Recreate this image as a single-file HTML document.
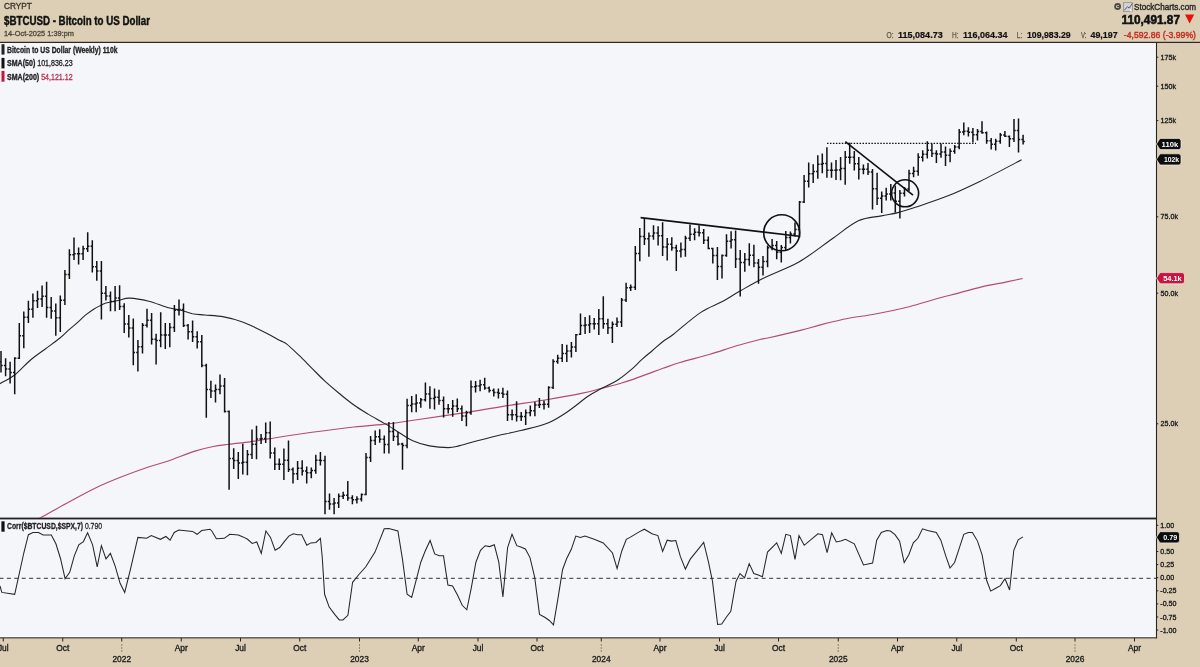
<!DOCTYPE html>
<html><head><meta charset="utf-8"><title>$BTCUSD - Bitcoin to US Dollar</title>
<style>html,body{margin:0;padding:0;background:#dccfb5;} svg{display:block;will-change:transform;}</style>
</head><body>
<svg width="1200" height="667" viewBox="0 0 1200 667"><rect x="0" y="0" width="1200" height="667" fill="#dccfb5"/><rect x="0" y="43" width="1156" height="595" fill="#f5f6fa"/><text x="4" y="9.4" font-family="'Liberation Sans', Arial, sans-serif" font-size="8.4" fill="#3a342c" stroke="#3a342c" stroke-width="0.32" textLength="27.8" lengthAdjust="spacingAndGlyphs">CRYPT</text><text x="4" y="24.6" font-family="'Liberation Sans', Arial, sans-serif" font-size="12" font-weight="bold" fill="#111" stroke="#111" stroke-width="0.42" textLength="146" lengthAdjust="spacingAndGlyphs">$BTCUSD - Bitcoin to US Dollar</text><text x="4" y="35.6" font-family="'Liberation Sans', Arial, sans-serif" font-size="7.6" fill="#4a443b" stroke="#4a443b" stroke-width="0.28" textLength="70" lengthAdjust="spacingAndGlyphs">14-Oct-2025 1:39:pm</text><circle cx="1117.6" cy="6.5" r="3.4" fill="#4d4843"/><text x="1117.6" y="8.3" font-family="'Liberation Sans', Arial, sans-serif" font-size="5.4" font-weight="bold" fill="#ece8e0" text-anchor="middle">c</text><rect x="1123.4" y="2.7" width="9.2" height="8.7" fill="#d2d1dc" stroke="#8a8785" stroke-width="0.7"/><path d="M1124.3 10.3 L1127.6 6.6 L1129.2 8.2 L1132.2 3.4" stroke="#55535a" stroke-width="0.9" fill="none"/><path d="M1129.6 8.4 L1132.3 11.2 L1130.3 11.4 Z" fill="#fff"/><text x="1134" y="9.6" font-family="'Liberation Sans', Arial, sans-serif" font-size="9.6" fill="#262626" stroke="#262626" stroke-width="0.4" textLength="62" lengthAdjust="spacingAndGlyphs">StockCharts.com</text><text x="1121.5" y="24.2" font-family="'Liberation Sans', Arial, sans-serif" font-size="12.6" font-weight="bold" fill="#111" stroke="#111" stroke-width="0.55" textLength="58.5" lengthAdjust="spacingAndGlyphs">110,491.87</text><path d="M1185 14.6 H1194.2 L1189.6 23.6 Z" fill="#e3120b"/><text x="886.5" y="38.2" font-family="'Liberation Sans', Arial, sans-serif" font-size="8.6" fill="#5e5850" stroke="#5e5850" stroke-width="0.25" textLength="7" lengthAdjust="spacingAndGlyphs">O:</text><text x="898" y="38.2" font-family="'Liberation Sans', Arial, sans-serif" font-size="9.2" font-weight="bold" fill="#111" stroke="#111" stroke-width="0.2" textLength="44.7" lengthAdjust="spacingAndGlyphs">115,084.73</text><text x="952" y="38.2" font-family="'Liberation Sans', Arial, sans-serif" font-size="8.6" fill="#5e5850" stroke="#5e5850" stroke-width="0.25" textLength="6.5" lengthAdjust="spacingAndGlyphs">H:</text><text x="963" y="38.2" font-family="'Liberation Sans', Arial, sans-serif" font-size="9.2" font-weight="bold" fill="#111" stroke="#111" stroke-width="0.2" textLength="44.4" lengthAdjust="spacingAndGlyphs">116,064.34</text><text x="1016.8" y="38.2" font-family="'Liberation Sans', Arial, sans-serif" font-size="8.6" fill="#5e5850" stroke="#5e5850" stroke-width="0.25" textLength="5.5" lengthAdjust="spacingAndGlyphs">L:</text><text x="1027" y="38.2" font-family="'Liberation Sans', Arial, sans-serif" font-size="9.2" font-weight="bold" fill="#111" stroke="#111" stroke-width="0.2" textLength="43.7" lengthAdjust="spacingAndGlyphs">109,983.29</text><text x="1081" y="38.2" font-family="'Liberation Sans', Arial, sans-serif" font-size="8.6" fill="#5e5850" stroke="#5e5850" stroke-width="0.25" textLength="5.5" lengthAdjust="spacingAndGlyphs">V:</text><text x="1090.5" y="38.2" font-family="'Liberation Sans', Arial, sans-serif" font-size="9.2" font-weight="bold" fill="#111" stroke="#111" stroke-width="0.2" textLength="27.1" lengthAdjust="spacingAndGlyphs">49,197</text><text x="1123.8" y="38.2" font-family="'Liberation Sans', Arial, sans-serif" font-size="9.2" fill="#c9291f" stroke="#c9291f" stroke-width="0.4" textLength="72.2" lengthAdjust="spacingAndGlyphs">-4,592.86 (-3.99%)</text><rect x="0" y="41.8" width="1200" height="1.2" fill="#2a2826"/><line x1="0" y1="578.3" x2="1156" y2="578.3" stroke="#333" stroke-width="1" stroke-dasharray="4 3.4" stroke-dashoffset="0.5"/><defs><clipPath id="pp"><rect x="0" y="43" width="1156" height="474.8"/></clipPath></defs><path clip-path="url(#pp)" d="M38 519.2C38.4 519 35.3 520.6 40.1 518C44.9 515.4 57.4 508.3 66.7 503.3C76 498.3 86.8 492.2 96 487.8C105.2 483.3 112.8 480.3 121.7 476.8C130.6 473.2 141.6 469.3 149.2 466.7C156.8 464.1 159.9 463.8 167.5 461.2C175.1 458.6 187.4 453.6 195 451.1C202.6 448.7 207.7 447.6 213.3 446.5C219 445.4 222.8 445.1 228.9 444.3C235 443.5 243.2 442.8 250 441.9C256.9 440.9 259.7 440.2 270 438.6C280.3 437 298 434.2 312 432.3C326 430.4 341.3 428.4 353.9 427C366.5 425.6 377 425.1 387.5 423.9C398 422.7 403.1 421.7 416.9 419.7C430.6 417.7 454.9 414.2 470 411.9C485.1 409.5 495 407.6 507.5 405.6C520 403.6 532.5 402.1 545 400C557.5 397.9 573.3 395 582.5 393.1C591.7 391.2 593.8 390.4 600 388.8C606.2 387.1 614.8 385 620 383.5C625.2 382 627 381.5 631.5 379.9C636 378.3 642 376 647.2 374.1C652.5 372.2 657.5 370.2 663 368.3C668.5 366.4 672.2 364.8 680 362.5C687.8 360.2 700.8 357 710 354.3C719.2 351.6 726.7 348.8 735 346.3C743.3 343.8 754.3 340.9 760 339.5C765.7 338.1 762.3 339.2 769 337.7C775.7 336.2 791.5 332.6 800.4 330.4C809.3 328.2 814.2 326.4 822.2 324.4C830.2 322.4 839.9 320 848.7 318.3C857.6 316.6 865.2 315.9 875.3 314C885.4 312.1 899.5 309.1 909.2 306.7C918.9 304.3 925.2 301.9 933.3 299.7C941.3 297.5 949.4 295.5 957.5 293.4C965.6 291.3 973.7 288.8 981.7 286.9C989.8 285 999 283.5 1005.8 282.1C1012.6 280.7 1019.9 279.1 1022.7 278.5" fill="none" stroke="#b44c6c" stroke-width="1.15"/><path d="M0 383.7C2.5 382.2 10 378.6 15 374.7C20 370.8 25 364.8 30 360.5C35 356.2 40 352.9 45 349.2C50 345.4 56 341.2 60 338C64 334.8 66.4 332.1 69.1 329.7C71.8 327.3 73.3 326.2 76.2 323.6C79.1 321.1 83.4 316.8 86.4 314.4C89.4 312 91.7 310.5 94.1 309C96.5 307.5 98.8 306.4 100.7 305.4C102.7 304.4 103.9 303.7 105.8 303.1C107.7 302.5 109.8 302.3 112 301.8C114.2 301.3 116 300.8 119 300.2C122 299.6 125 297.9 130 298.1C135 298.3 142.5 299.7 148.8 301.2C155 302.8 162.3 306 167.5 307.5C172.7 309 175.8 309 180 310C184.2 311 188.3 312.9 192.5 313.8C196.7 314.6 199.8 314.5 205 315C210.2 315.5 217.5 315.8 223.8 316.9C230 318 237.3 320.1 242.5 321.9C247.7 323.7 250.8 325.5 255 327.5C259.2 329.5 263.3 331.6 267.5 333.8C271.7 335.9 276.8 338.9 280 340.6C283.2 342.3 283.6 341.6 286.8 344.1C290 346.6 295.2 351.7 299.4 355.7C303.6 359.7 307.8 364.1 312 368.3C316.2 372.5 320.1 376.7 324.6 380.9C329.2 385.1 334.4 389.5 339.3 393.5C344.2 397.5 349 401.5 353.9 405C358.8 408.5 363.4 411.2 368.6 414.4C373.9 417.5 380.1 420.8 385.4 423.9C390.6 427 395.6 430.5 400.1 433.3C404.7 436.1 407.8 438.6 412.7 440.7C417.6 442.8 423.6 444.8 429.5 445.9C435.4 447 443.5 447.6 448.4 447.6C453.3 447.6 455.3 446.7 458.9 445.9C462.5 445.1 464.1 444.4 470 442.8C475.9 441.2 485.5 438.6 494 436.5C502.5 434.4 511.9 432.8 520.9 430.5C529.9 428.2 540.2 426.1 547.9 423C555.5 419.9 560 416.7 566.8 412.2C573.5 407.7 582.9 399.8 588.4 396C593.9 392.2 596.3 391.3 600 389.3C603.7 387.3 607.4 385.8 610.5 384.1C613.6 382.4 615.4 381.8 618.9 379.3C622.4 376.9 627.6 372.7 631.5 369.4C635.4 366.1 638.5 362.5 642 359.4C645.5 356.2 649 353.5 652.5 350.5C656 347.5 659.5 344.2 663 341.5C666.5 338.8 667.2 339.1 673.5 334.2C679.8 329.3 692.6 317.8 700.8 312.4C708.9 307 715.8 305.2 722.4 301.6C729 298 733.1 294.9 740.4 290.8C747.7 286.7 756.2 281.7 766 276.9C775.8 272.1 787.9 268.3 798.9 262C809.9 255.7 822 245.9 831.9 239C841.8 232.1 850 224.7 858.3 220.8C866.5 217 874.8 217.3 881.4 215.9C888 214.5 892.4 214 897.9 212.6C903.4 211.2 906.1 210.3 914.4 207.6C922.6 204.8 936.4 200.5 947.4 196.1C958.4 191.7 967.9 187.2 980.3 181.2C992.7 175.1 1014.7 163.4 1021.6 159.8" fill="none" stroke="#262626" stroke-width="1.1"/><path d="M1 351V372.6M-0.7 361.8H1M1 365.4H2.7M5.6 358.2V376.2M3.9 365.4H5.6M5.6 369H7.3M10.1 361.8V383.4M8.4 369H10.1M10.1 372.6H11.8M14.7 357.3V394.2M13 372.6H14.7M14.7 358.2H16.4M19.3 323.1V359.1M17.6 358.2H19.3M19.3 335.7H21M23.8 311.5V348.3M22.1 335.7H23.8M23.8 317.3H25.5M28.4 300.7V323.1M26.7 317.3H28.4M28.4 309.2H30.1M32.9 293.5V317.8M31.2 309.2H32.9M32.9 300.7H34.6M37.5 290.8V307.9M35.8 300.7H37.5M37.5 298.9H39.2M42.1 285.4V307M40.4 298.9H42.1M42.1 296.2H43.8M46.6 281.8V317.8M44.9 296.2H46.6M46.6 307.4H48.3M51.2 297V318.7M49.5 307.4H51.2M51.2 311H52.9M55.8 303.4V335.7M54.1 311H55.8M55.8 317.7H57.5M60.3 295.5V332M58.6 317.7H60.3M60.3 300.2H62M64.9 270V305M63.2 300.2H64.9M64.9 274.5H66.6M69.4 249.3V279M67.7 274.5H69.4M69.4 254.7H71.1M74 237.6V260M72.3 254.7H74M74 253.8H75.7M78.6 247.5V264.5M76.9 253.8H78.6M78.6 253.8H80.3M83.1 245.7V260M81.4 253.8H83.1M83.1 248.8H84.8M87.7 232.2V252M86 248.8H87.7M87.7 246.2H89.4M92.3 240.3V272.6M90.6 246.2H92.3M92.3 266.8H94M96.8 261V280.7M95.1 266.8H96.8M96.8 270.9H98.5M101.4 261V319.4M99.7 270.9H101.4M101.4 293.2H103.1M105.9 286V300.5M104.2 293.2H105.9M105.9 296H107.6M110.5 291.5V311.3M108.8 296H110.5M110.5 301.4H112.2M115.1 286V311.3M113.4 301.4H115.1M115.1 298H116.8M119.6 285.2V310M117.9 298H119.6M119.6 306.6H121.3M124.2 303.3V333M122.5 306.6H124.2M124.2 324H125.9M128.8 315V337.4M127.1 324H128.8M128.8 327.9H130.5M133.3 318.5V365.3M131.6 327.9H133.3M133.3 352.6H135M137.9 340V371.6M136.2 352.6H137.9M137.9 346.8H139.6M142.5 323V353.6M140.8 346.8H142.5M142.5 325.2H144.2M147 308.7V327.5M145.3 325.2H147M147 320.2H148.7M151.6 313V344.6M149.9 320.2H151.6M151.6 339.2H153.3M156.1 333.8V364.4M154.4 339.2H156.1M156.1 340.6H157.8M160.7 312.2V347.3M159 340.6H160.7M160.7 335.1H162.4M165.3 323V349M163.6 335.1H165.3M165.3 335.1H167M169.8 323V347.3M168.1 335.1H169.8M169.8 327.5H171.5M174.4 305V332M172.7 327.5H174.4M174.4 310.2H176.1M179 299.5V315.5M177.3 310.2H179M179 309.5H180.7M183.5 303.5V326.9M181.8 309.5H183.5M183.5 325.4H185.2M188.1 324V339.4M186.4 325.4H188.1M188.1 331.7H189.8M192.6 320.6V342.1M190.9 331.7H192.6M192.6 336.7H194.3M197.2 331.3V348.4M195.5 336.7H197.2M197.2 341.7H198.9M201.8 335V367.3M200.1 341.7H201.8M201.8 365.5H203.5M206.3 363.7V417.8M204.6 365.5H206.3M206.3 389.4H208M210.9 380.8V397.9M209.2 389.4H210.9M210.9 391.1H212.6M215.5 384.4V402.4M213.8 391.1H215.5M215.5 389.4H217.2M220 374.5V394.3M218.3 389.4H220M220 386.1H221.7M224.6 378V412.4M222.9 386.1H224.6M224.6 411.5H226.3M229.1 410.6V489.7M227.4 411.5H229.1M229.1 458.6H230.8M233.7 448.3V469M232 458.6H233.7M233.7 460.4H235.4M238.3 451.9V478.9M236.6 460.4H238.3M238.3 463.1H240M242.8 443.8V474.4M241.1 463.1H242.8M242.8 462.2H244.5M247.4 450V475.3M245.7 462.2H247.4M247.4 454.6H249.1M252 429.4V459.1M250.3 454.6H252M252 444.2H253.7M256.5 425.8V459.2M254.8 444.2H256.5M256.5 439H258.2M261.1 434V444M259.4 439H261.1M261.1 438.6H262.8M265.7 422.5V443.1M264 438.6H265.7M265.7 432.8H267.4M270.2 421.6V458.4M268.5 432.8H270.2M270.2 453H271.9M274.8 447.6V470.1M273.1 453H274.8M274.8 464.2H276.5M279.3 458.4V470.1M277.6 464.2H279.3M279.3 464.2H281M283.9 448.5V480M282.2 464.2H283.9M283.9 460.2H285.6M288.5 440.4V471.9M286.8 460.2H288.5M288.5 469.6H290.2M293 467.4V483.6M291.3 469.6H293M293 473.7H294.7M297.6 461.1V480M295.9 473.7H297.6M297.6 468.3H299.3M302.2 460.2V475.5M300.5 468.3H302.2M302.2 471H303.9M306.7 466.5V483.6M305 471H306.7M306.7 472.8H308.4M311.3 467.4V478.2M309.6 472.8H311.3M311.3 470.5H313M315.8 454.8V473.7M314.1 470.5H315.8M315.8 460.2H317.5M320.4 452.1V465.6M318.7 460.2H320.4M320.4 460.6H322.1M325 455.7V514.2M323.3 460.6H325M325 501.6H326.7M329.5 493.5V509.7M327.8 501.6H329.5M329.5 503.9H331.2M334.1 498V514.2M332.4 503.9H334.1M334.1 502.9H335.8M338.7 493.5V507.9M337 502.9H338.7M338.7 496.2H340.4M343.2 491.7V498.9M341.5 496.2H343.2M343.2 495.3H344.9M347.8 480.9V500.7M346.1 495.3H347.8M347.8 498H349.5M352.4 495.3V504.3M350.7 498H352.4M352.4 499.8H354.1M356.9 496.2V503.4M355.2 499.8H356.9M356.9 498.9H358.6M361.5 493.5V501.6M359.8 498.9H361.5M361.5 494.4H363.2M366 453V495.3M364.3 494.4H366M366 457.5H367.7M370.6 436V462M368.9 457.5H370.6M370.6 440.5H372.3M375.2 430.6V445M373.5 440.5H375.2M375.2 436.7H376.9M379.7 429.3V442.8M378 436.7H379.7M379.7 439.2H381.4M384.3 435.6V453.6M382.6 439.2H384.3M384.3 444.6H386M388.9 422.1V453.6M387.2 444.6H388.9M388.9 431.6H390.6M393.4 422.1V441M391.7 431.6H393.4M393.4 436.5H395.1M398 432V445.5M396.3 436.5H398M398 444.1H399.7M402.5 442.8V469.8M400.8 444.1H402.5M402.5 445.5H404.2M407.1 398.8V448.2M405.4 445.5H407.1M407.1 405.5H408.8M411.7 396V412.2M410 405.5H411.7M411.7 404.1H413.4M416.2 394.3V412.2M414.5 404.1H416.2M416.2 402.9H417.9M420.8 397.9V407.8M419.1 402.9H420.8M420.8 399.7H422.5M425.4 382.6V401.5M423.7 399.7H425.4M425.4 393.9H427.1M429.9 386.2V408.7M428.2 393.9H429.9M429.9 398.6H431.6M434.5 388.5V409.4M432.8 398.6H434.5M434.5 397.2H436.2M439 389.8V404.7M437.3 397.2H439M439 400.6H440.7M443.6 396.6V417.5M441.9 400.6H443.6M443.6 408.8H445.3M448.2 404V413.5M446.5 408.8H448.2M448.2 408.8H449.9M452.7 400V416.8M451 408.8H452.7M452.7 406.1H454.4M457.3 398.6V412.1M455.6 406.1H457.3M457.3 408.8H459M461.9 405.4V420.9M460.2 408.8H461.9M461.9 415.9H463.6M466.4 410.8V426.3M464.7 415.9H466.4M466.4 412.8H468.1M471 380.4V414.8M469.3 412.8H471M471 386.8H472.7M475.6 381V392.5M473.9 386.8H475.6M475.6 386.1H477.3M480.1 379.7V391.2M478.4 386.1H480.1M480.1 384.8H481.8M484.7 377.7V389.8M483 384.8H484.7M484.7 388.1H486.4M489.2 386.5V392.5M487.5 388.1H489.2M489.2 390.5H490.9M493.8 388.5V396.6M492.1 390.5H493.8M493.8 392.6H495.5M498.4 388.5V398.6M496.7 392.6H498.4M498.4 393.2H500.1M502.9 387.8V397.9M501.2 393.2H502.9M502.9 394.2H504.6M507.5 390.5V420.9M505.8 394.2H507.5M507.5 414.8H509.2M512.1 409.4V420.2M510.4 414.8H512.1M512.1 414.8H513.8M516.6 401.3V421.6M514.9 414.8H516.6M516.6 416.5H518.3M521.2 412.1V420.9M519.5 416.5H521.2M521.2 416.5H522.9M525.7 409.4V424.9M524 416.5H525.7M525.7 412.8H527.4M530.3 405.4V416.2M528.6 412.8H530.3M530.3 410.8H532M534.9 402V416.2M533.2 410.8H534.9M534.9 405.1H536.6M539.4 398V408.1M537.7 405.1H539.4M539.4 404.4H541.1M544 400.6V409.4M542.3 404.4H544M544 404.2H545.7M548.6 386.2V407.8M546.9 404.2H548.6M548.6 387.5H550.3M553.1 359.2V388.9M551.4 387.5H553.1M553.1 361.4H554.8M557.7 354.7V363.7M556 361.4H557.7M557.7 358.3H559.4M562.2 343.9V361.9M560.5 358.3H562.2M562.2 353.4H563.9M566.8 344.8V361.9M565.1 353.4H566.8M566.8 351.1H568.5M571.4 342.1V357.4M569.7 351.1H571.4M571.4 347.1H573.1M575.9 334V352M574.2 347.1H575.9M575.9 334.8H577.6M580.5 313.4V335M578.8 334.2H580.5M580.5 325.5H582.2M585.1 317V334M583.4 325.5H585.1M585.1 325.1H586.8M589.6 315.2V333.1M587.9 325.1H589.6M589.6 323.7H591.3M594.2 317.9V329.5M592.5 323.7H594.2M594.2 323.7H595.9M598.8 308.9V334.9M597.1 323.7H598.8M598.8 318.8H600.5M603.3 296.3V328.7M601.6 318.8H603.3M603.3 323.8H605M607.9 318.8V334M606.2 323.8H607.9M607.9 327.8H609.6M612.4 321.5V343M610.7 327.8H612.4M612.4 324.2H614.1M617 317.4V326.9M615.3 324.2H617M617 322.1H618.7M621.6 298V326.9M619.9 322.1H621.6M621.6 300H623.3M626.1 282.8V302M624.4 300H626.1M626.1 287.8H627.8M630.7 284.6V290.9M629 287.8H630.7M630.7 287.3H632.4M635.3 246V290M633.6 287.3H635.3M635.3 253.6H637M639.8 228V261.2M638.1 253.6H639.8M639.8 236.5H641.5M644.4 218.1V245M642.7 236.5H644.4M644.4 238.8H646.1M648.9 232.5V256.7M647.2 238.8H648.9M648.9 236.1H650.6M653.5 225.3V239.7M651.8 236.1H653.5M653.5 232.9H655.2M658.1 226.2V245.5M656.4 232.9H658.1M658.1 235.8H659.8M662.6 222.2V256M660.9 235.8H662.6M662.6 247H664.3M667.2 238V260.5M665.5 247H667.2M667.2 244.3H668.9M671.8 237.2V250.7M670.1 244.3H671.8M671.8 247.7H673.5M676.3 244.7V271M674.6 247.7H676.3M676.3 251.1H678M680.9 242.5V257.5M679.2 251.1H680.9M680.9 249.6H682.6M685.4 235.7V256.7M683.7 249.6H685.4M685.4 238.3H687.1M690 224.5V241M688.3 238.3H690M690 234.2H691.7M694.6 228.2V240.2M692.9 234.2H694.6M694.6 232.3H696.3M699.1 225.2V236.5M697.4 232.3H699.1M699.1 232.8H700.8M703.7 229V244M702 232.8H703.7M703.7 240.2H705.4M708.3 236.5V249.2M706.6 240.2H708.3M708.3 248.4H710M712.8 247.7V263.5M711.1 248.5H712.8M712.8 255.6H714.5M717.4 247V280M715.7 255.6H717.4M717.4 266.4H719.1M722 254.5V278.4M720.3 266.4H722M722 255.6H723.7M726.5 234.2V256.7M724.8 255.6H726.5M726.5 241.3H728.2M731.1 231.2V248.5M729.4 241.3H731.1M731.1 239.8H732.8M735.6 230.5V268M733.9 239.8H735.6M735.6 259H737.3M740.2 250V296.4M738.5 259H740.2M740.2 262.4H741.9M744.8 253V271.7M743.1 262.4H744.8M744.8 259.4H746.5M749.3 243.2V265.7M747.6 259.4H749.3M749.3 255.2H751M753.9 244.7V267.2M752.2 255.2H753.9M753.9 263.1H755.6M758.5 259V283.7M756.8 263.1H758.5M758.5 267.2H760.2M763 256V275.4M761.3 267.2H763M763 261.6H764.7M767.6 245.5V267.2M765.9 261.6H767.6M767.6 247.8H769.3M772.1 239V250.2M770.4 247.8H772.1M772.1 245.6H773.8M776.7 241V259.3M775 245.6H776.7M776.7 252.2H778.4M781.3 245.1V262.4M779.6 252.2H781.3M781.3 247.6H783M785.8 231V250M784.1 247.6H785.8M785.8 237.5H787.5M790.4 231.5V243.5M788.7 237.5H790.4M790.4 234H792.1M795 222.5V236.5M793.3 234H795M795 229.5H796.7M799.5 201V237.5M797.8 229.5H799.5M799.5 202H801.2M804.1 175V203M802.4 202H804.1M804.1 181.3H805.8M808.7 162.5V187.6M807 181.3H808.7M808.7 173.7H810.4M813.2 164.3V183M811.5 173.7H813.2M813.2 171.5H814.9M817.8 155.3V178.7M816.1 171.5H817.8M817.8 164.3H819.5M822.3 153.5V173.3M820.6 164.3H822.3M822.3 163.4H824M826.9 147.2V177.8M825.2 163.4H826.9M826.9 170.2H828.6M831.5 162.5V177.8M829.8 170.2H831.5M831.5 170.2H833.2M836 160V180M834.3 170.2H836M836 170H837.7M840.6 157V180.2M838.9 170H840.6M840.6 168.6H842.3M845.2 151V184.7M843.5 168.6H845.2M845.2 157.3H846.9M849.7 142.7V163.7M848 157.3H849.7M849.7 157.3H851.4M854.3 151V170.4M852.6 157.3H854.3M854.3 163.7H856M858.8 157V179.4M857.1 163.7H858.8M858.8 169.3H860.5M863.4 164.5V174.2M861.7 169.3H863.4M863.4 169.3H865.1M868 163V175M866.3 169.3H868M868 172H869.7M872.5 169V209.4M870.8 172H872.5M872.5 188.8H874.2M877.1 172.7V205M875.4 188.8H877.1M877.1 198.2H878.8M881.7 191.4V213.1M880 198.2H881.7M881.7 195.9H883.4M886.2 187.7V200.4M884.5 195.9H886.2M886.2 194.1H887.9M890.8 184V200.4M889.1 194.1H890.8M890.8 192.9H892.5M895.3 185.4V212.4M893.6 192.9H895.3M895.3 201.2H897M899.9 190V218.4M898.2 201.2H899.9M899.9 193.2H901.6M904.5 187V196.5M902.8 193.2H904.5M904.5 189H906.2M909 169.7V191M907.3 189H909M909 173.4H910.7M913.6 166.7V177.2M911.9 173.4H913.6M913.6 171.2H915.3M918.2 153.2V175.7M916.5 171.2H918.2M918.2 157.3H919.9M922.7 150.2V161.4M921 157.3H922.7M922.7 154.3H924.4M927.3 141.2V158.4M925.6 154.3H927.3M927.3 150.2H929M931.9 143.4V157M930.2 150.2H931.9M931.9 153.6H933.6M936.4 150.2V162.9M934.7 153.6H936.4M936.4 153.9H938.1M941 143.4V157.7M939.3 153.9H941M941 152.1H942.7M945.5 146.4V165.9M943.8 152.1H945.5M945.5 155.3H947.2M950.1 148.5V162.2M948.4 155.3H950.1M950.1 151.2H951.8M954.7 145V153.8M953 151.2H954.7M954.7 147.1H956.4M959.2 129V149.2M957.5 147.1H959.2M959.2 132.1H960.9M963.8 122.6V135.2M962.1 132.1H963.8M963.8 131.2H965.5M968.4 127.3V136.6M966.7 131.2H968.4M968.4 132.2H970.1M972.9 127.9V142.5M971.2 132.2H972.9M972.9 134.8H974.6M977.5 128.9V140.6M975.8 134.8H977.5M977.5 131.4H979.2M982 121.2V133.8M980.3 131.4H982M982 132.7H983.7M986.6 131.6V143.7M984.9 132.7H986.6M986.6 140.8H988.3M991.2 137.9V149.6M989.5 140.8H991.2M991.2 144.2H992.9M995.7 138.8V150.5M994 144.2H995.7M995.7 141.2H997.4M1000.3 132.9V143.7M998.6 141.2H1000.3M1000.3 134.9H1002M1004.9 131.1V137M1003.2 134.9H1004.9M1004.9 136.2H1006.6M1009.4 135.6V146.9M1007.7 136.4H1009.4M1009.4 138.8H1011.1M1014 119V141.9M1012.3 138.8H1014M1014 130.4H1015.7M1018.5 118.5V152.5M1016.8 130.4H1018.5M1018.5 139.6H1020.2M1023.1 134.7V144.6M1021.4 139.6H1023.1M1023.1 141.6H1024.8" stroke="#111" stroke-width="1.5" fill="none"/><line x1="640.6" y1="217.6" x2="799" y2="236.2" stroke="#111" stroke-width="1.6"/><circle cx="781.7" cy="232.8" r="18" fill="none" stroke="#111" stroke-width="1.6"/><line x1="845.3" y1="141.6" x2="913" y2="195.2" stroke="#111" stroke-width="1.6"/><circle cx="905.1" cy="193.3" r="13.5" fill="none" stroke="#111" stroke-width="1.6"/><line x1="827" y1="143.3" x2="976" y2="143.3" stroke="#111" stroke-width="1.3" stroke-dasharray="1.5 1.46"/><polyline points="0,586 1.8,592.4 14.7,594.3 23.8,553 28.4,534.7 33,532.5 38.5,532.5 43.1,535 51.3,535 55.9,543.8 60.5,558.5 65.1,578.7 69.7,572.3 74.3,555.8 78.8,544.8 83.4,541.6 87.6,532.8 92.6,544.8 97.2,566.8 101.4,545.7 106,558.9 110.4,553.4 115.1,565.8 120.1,583.3 124.7,592.4 130.2,570.4 137.9,537.4 146.7,538.3 151.3,535.6 160.4,539.3 165.9,536.5 170.1,540.2 174.2,532.5 178.8,530.1 192.5,531.4 197.1,534.3 201.7,530.6 210,529.2 211.8,531 216.4,538.7 224.3,538.3 229.8,534.3 238.4,535 243,536.9 247.6,539.3 252.2,543.5 256.8,542 261.3,553.4 265.9,531 270.5,537.4 275.1,550.3 279.7,547.5 284.3,541.6 288.8,536.1 293.4,533.8 297.6,534.7 301.7,534.7 306.8,545.3 310.8,542.9 316,542.4 320.4,538.3 322.2,556.7 324.6,594.3 329.2,607.1 334.7,614.4 339.3,619.9 342.9,619.9 347.9,615.3 352.6,582.3 358.5,575 365.8,566.8 375,552.1 384.2,528.8 388.8,528.6 397.9,531 402.5,559.4 407.1,594.3 411.7,597.4 416.3,579.6 420.8,562.2 425.1,551.2 430.1,540.5 434.7,553.9 439.3,555.8 443.5,555.8 447.9,585.1 452.6,586 457.6,595.2 462.2,605.3 466.8,609.8 471.3,587.8 475.9,562.2 480.5,550.3 485.1,545.7 489.7,546.6 494.3,544.8 498.8,562.2 502.9,597 507.6,547.5 512,534.3 516.8,545.7 520.8,547.1 525.4,549 530,557.6 534.6,576.8 539.5,614.4 544.7,617.2 549.3,620.5 553.5,624.9 557.9,598.8 562.6,569.5 566.7,558.5 571.3,549.3 575.8,536.1 580.4,537.4 585,536.1 594.2,539.3 603.3,542.9 612.5,553 617.1,568.6 621.7,551.2 626.3,539.3 630,537.4 639.2,531.9 644.3,529.2 652,533.8 657.9,535.6 662.6,551.5 667.2,540.2 671.3,541.1 675.8,540.5 680.4,556.7 685.4,569.1 690.1,559.4 703.7,542.4 708.5,562.2 712.5,581.4 717.6,624.5 721.7,624.1 726.3,617.2 730.8,611.3 736,581.4 740,573.5 744.6,577.8 749.2,563.6 753.8,573.5 758.3,575 762.4,576.8 767.5,552.1 776.7,542.9 781.3,553.4 785.8,534.3 790.4,535.6 795,559.4 799,535.6 804.2,545.3 817.9,533.8 822.5,534.7 827.1,552.6 831.7,532.8 836.3,542 840.8,541.1 845.4,539.3 854.3,543.8 863.5,564.9 872.6,563.1 876.7,540.2 881.3,532.5 886.8,530.6 890.4,531 895,534.7 899.6,541.1 904.2,562.5 908.8,554.8 913.3,542.9 917.9,538.3 922.5,528.8 927.6,530.6 936.3,532.5 940.8,540.2 946,556.7 950,568 954.6,562.5 959.2,548.4 963.8,534.3 968.3,532.5 972.4,532.5 977.5,541.1 982.1,554.8 986.7,580.5 990.7,591.1 995.8,588.2 1000.4,585.6 1005,578.7 1009.6,590 1013.8,550.3 1018.2,539.8 1023,536.9" fill="none" stroke="#262626" stroke-width="1.05"/><rect x="0" y="517.6" width="1156" height="1.8" fill="#222"/><rect x="0" y="636.4" width="1156" height="0.8" fill="#fff"/><rect x="0" y="637.1" width="1156" height="1.4" fill="#555"/><rect x="1155.95" y="42" width="1.1" height="596.5" fill="#262626"/><rect x="1.5" y="44.2" width="3" height="10.4" fill="#222"/><rect x="1.5" y="57.9" width="3" height="10.5" fill="#111"/><rect x="1.5" y="70.9" width="3" height="10.8" fill="#c8153e"/><text x="7" y="52.6" font-family="'Liberation Sans', Arial, sans-serif" font-size="8.2" font-weight="bold" fill="#222" stroke="#222" stroke-width="0.28" textLength="110.5" lengthAdjust="spacingAndGlyphs">Bitcoin to US Dollar (Weekly) 110k</text><text x="7" y="66.1" font-family="'Liberation Sans', Arial, sans-serif" font-size="8.2" fill="#222" stroke="#222" stroke-width="0.28" textLength="65.6" lengthAdjust="spacingAndGlyphs"><tspan font-weight="bold">SMA(50)</tspan> 101,836.23</text><text x="7" y="79.5" font-family="'Liberation Sans', Arial, sans-serif" font-size="8.2" fill="#222" stroke="#222" stroke-width="0.28" textLength="65.6" lengthAdjust="spacingAndGlyphs"><tspan font-weight="bold">SMA(200)</tspan> <tspan fill="#b8304f" stroke="#b8304f">54,121.12</tspan></text><rect x="1.4" y="521.3" width="3.2" height="10.4" fill="#111"/><text x="7" y="529.3" font-family="'Liberation Sans', Arial, sans-serif" font-size="8.4" fill="#222" stroke="#222" stroke-width="0.28" textLength="95" lengthAdjust="spacingAndGlyphs"><tspan font-weight="bold">Corr($BTCUSD,$SPX,7)</tspan> 0.790</text><line x1="1156" y1="57.2" x2="1158.3" y2="57.2" stroke="#222" stroke-width="1"/><text x="1160.6" y="59.7" font-family="'Liberation Sans', Arial, sans-serif" font-size="7.1" fill="#1a1a1a" stroke="#1a1a1a" stroke-width="0.32">175k</text><line x1="1156" y1="86.2" x2="1158.3" y2="86.2" stroke="#222" stroke-width="1"/><text x="1160.6" y="88.7" font-family="'Liberation Sans', Arial, sans-serif" font-size="7.1" fill="#1a1a1a" stroke="#1a1a1a" stroke-width="0.32">150k</text><line x1="1156" y1="120.6" x2="1158.3" y2="120.6" stroke="#222" stroke-width="1"/><text x="1160.6" y="123.1" font-family="'Liberation Sans', Arial, sans-serif" font-size="7.1" fill="#1a1a1a" stroke="#1a1a1a" stroke-width="0.32">125k</text><line x1="1156" y1="216.8" x2="1158.3" y2="216.8" stroke="#222" stroke-width="1"/><text x="1160.6" y="219.3" font-family="'Liberation Sans', Arial, sans-serif" font-size="7.1" fill="#1a1a1a" stroke="#1a1a1a" stroke-width="0.32">75.0k</text><line x1="1156" y1="293.2" x2="1158.3" y2="293.2" stroke="#222" stroke-width="1"/><text x="1160.6" y="295.7" font-family="'Liberation Sans', Arial, sans-serif" font-size="7.1" fill="#1a1a1a" stroke="#1a1a1a" stroke-width="0.32">50.0k</text><line x1="1156" y1="423.8" x2="1158.3" y2="423.8" stroke="#222" stroke-width="1"/><text x="1160.6" y="426.3" font-family="'Liberation Sans', Arial, sans-serif" font-size="7.1" fill="#1a1a1a" stroke="#1a1a1a" stroke-width="0.32">25.0k</text><line x1="1156" y1="525.3" x2="1158.3" y2="525.3" stroke="#222" stroke-width="1"/><text x="1160.3" y="527.8" font-family="'Liberation Sans', Arial, sans-serif" font-size="7.1" fill="#1a1a1a" stroke="#1a1a1a" stroke-width="0.32">1.00</text><line x1="1156" y1="551.5" x2="1158.3" y2="551.5" stroke="#222" stroke-width="1"/><text x="1160.3" y="554" font-family="'Liberation Sans', Arial, sans-serif" font-size="7.1" fill="#1a1a1a" stroke="#1a1a1a" stroke-width="0.32">0.50</text><line x1="1156" y1="564.6" x2="1158.3" y2="564.6" stroke="#222" stroke-width="1"/><text x="1160.3" y="567.1" font-family="'Liberation Sans', Arial, sans-serif" font-size="7.1" fill="#1a1a1a" stroke="#1a1a1a" stroke-width="0.32">0.25</text><line x1="1156" y1="577.7" x2="1158.3" y2="577.7" stroke="#222" stroke-width="1"/><text x="1160.3" y="580.2" font-family="'Liberation Sans', Arial, sans-serif" font-size="7.1" fill="#1a1a1a" stroke="#1a1a1a" stroke-width="0.32">0.00</text><line x1="1156" y1="590.8" x2="1158.3" y2="590.8" stroke="#222" stroke-width="1"/><text x="1160.3" y="593.3" font-family="'Liberation Sans', Arial, sans-serif" font-size="7.1" fill="#1a1a1a" stroke="#1a1a1a" stroke-width="0.32">-0.25</text><line x1="1156" y1="603.9" x2="1158.3" y2="603.9" stroke="#222" stroke-width="1"/><text x="1160.3" y="606.4" font-family="'Liberation Sans', Arial, sans-serif" font-size="7.1" fill="#1a1a1a" stroke="#1a1a1a" stroke-width="0.32">-0.50</text><line x1="1156" y1="617" x2="1158.3" y2="617" stroke="#222" stroke-width="1"/><text x="1160.3" y="619.5" font-family="'Liberation Sans', Arial, sans-serif" font-size="7.1" fill="#1a1a1a" stroke="#1a1a1a" stroke-width="0.32">-0.75</text><line x1="1156" y1="630.1" x2="1158.3" y2="630.1" stroke="#222" stroke-width="1"/><text x="1160.3" y="632.6" font-family="'Liberation Sans', Arial, sans-serif" font-size="7.1" fill="#1a1a1a" stroke="#1a1a1a" stroke-width="0.32">-1.00</text><path d="M1156.4 144 L1160 138.4 H1178.5 Q1181 138.4 1181 140.9 V147.1 Q1181 149.6 1178.5 149.6 H1160 Z" fill="#0d0d0d" stroke="#f4efe4" stroke-width="0.7"/><text x="1161.6" y="146.8" font-family="'Liberation Sans', Arial, sans-serif" font-size="7.8" font-weight="bold" fill="#fff" textLength="16.6" lengthAdjust="spacingAndGlyphs">110k</text><path d="M1156.4 159.4 L1160 153.8 H1178.5 Q1181 153.8 1181 156.3 V162.5 Q1181 165 1178.5 165 H1160 Z" fill="#0d0d0d" stroke="#f4efe4" stroke-width="0.7"/><text x="1163.9" y="162.2" font-family="'Liberation Sans', Arial, sans-serif" font-size="7.8" font-weight="bold" fill="#fff" textLength="15.3" lengthAdjust="spacingAndGlyphs">102k</text><path d="M1156.4 278.2 L1160 272.6 H1182 Q1184.5 272.6 1184.5 275.1 V281.3 Q1184.5 283.8 1182 283.8 H1160 Z" fill="#c8153e" stroke="#f4efe4" stroke-width="0.7"/><text x="1163.2" y="281" font-family="'Liberation Sans', Arial, sans-serif" font-size="7.8" font-weight="bold" fill="#fff" textLength="18.5" lengthAdjust="spacingAndGlyphs">54.1k</text><path d="M1156.4 537.3 L1160 531.7 H1177 Q1179.5 531.7 1179.5 534.2 V540.4 Q1179.5 542.9 1177 542.9 H1160 Z" fill="#0d0d0d" stroke="#f4efe4" stroke-width="0.7"/><text x="1163.2" y="540.1" font-family="'Liberation Sans', Arial, sans-serif" font-size="7.8" font-weight="bold" fill="#fff" textLength="14" lengthAdjust="spacingAndGlyphs">0.79</text><line x1="3.25" y1="638" x2="3.25" y2="641.5" stroke="#222" stroke-width="1"/><text x="3.25" y="651.3" font-family="'Liberation Sans', Arial, sans-serif" font-size="8.4" fill="#1a1a1a" stroke="#1a1a1a" stroke-width="0.32" text-anchor="middle">Jul</text><line x1="62.75" y1="638" x2="62.75" y2="641.5" stroke="#222" stroke-width="1"/><text x="62.75" y="651.3" font-family="'Liberation Sans', Arial, sans-serif" font-size="8.4" fill="#1a1a1a" stroke="#1a1a1a" stroke-width="0.32" text-anchor="middle">Oct</text><line x1="181.25" y1="638" x2="181.25" y2="641.5" stroke="#222" stroke-width="1"/><text x="181.25" y="651.3" font-family="'Liberation Sans', Arial, sans-serif" font-size="8.4" fill="#1a1a1a" stroke="#1a1a1a" stroke-width="0.32" text-anchor="middle">Apr</text><line x1="240.5" y1="638" x2="240.5" y2="641.5" stroke="#222" stroke-width="1"/><text x="240.5" y="651.3" font-family="'Liberation Sans', Arial, sans-serif" font-size="8.4" fill="#1a1a1a" stroke="#1a1a1a" stroke-width="0.32" text-anchor="middle">Jul</text><line x1="299.75" y1="638" x2="299.75" y2="641.5" stroke="#222" stroke-width="1"/><text x="299.75" y="651.3" font-family="'Liberation Sans', Arial, sans-serif" font-size="8.4" fill="#1a1a1a" stroke="#1a1a1a" stroke-width="0.32" text-anchor="middle">Oct</text><line x1="418.25" y1="638" x2="418.25" y2="641.5" stroke="#222" stroke-width="1"/><text x="418.25" y="651.3" font-family="'Liberation Sans', Arial, sans-serif" font-size="8.4" fill="#1a1a1a" stroke="#1a1a1a" stroke-width="0.32" text-anchor="middle">Apr</text><line x1="478" y1="638" x2="478" y2="641.5" stroke="#222" stroke-width="1"/><text x="478" y="651.3" font-family="'Liberation Sans', Arial, sans-serif" font-size="8.4" fill="#1a1a1a" stroke="#1a1a1a" stroke-width="0.32" text-anchor="middle">Jul</text><line x1="537" y1="638" x2="537" y2="641.5" stroke="#222" stroke-width="1"/><text x="537" y="651.3" font-family="'Liberation Sans', Arial, sans-serif" font-size="8.4" fill="#1a1a1a" stroke="#1a1a1a" stroke-width="0.32" text-anchor="middle">Oct</text><line x1="660" y1="638" x2="660" y2="641.5" stroke="#222" stroke-width="1"/><text x="660" y="651.3" font-family="'Liberation Sans', Arial, sans-serif" font-size="8.4" fill="#1a1a1a" stroke="#1a1a1a" stroke-width="0.32" text-anchor="middle">Apr</text><line x1="719.5" y1="638" x2="719.5" y2="641.5" stroke="#222" stroke-width="1"/><text x="719.5" y="651.3" font-family="'Liberation Sans', Arial, sans-serif" font-size="8.4" fill="#1a1a1a" stroke="#1a1a1a" stroke-width="0.32" text-anchor="middle">Jul</text><line x1="778.5" y1="638" x2="778.5" y2="641.5" stroke="#222" stroke-width="1"/><text x="778.5" y="651.3" font-family="'Liberation Sans', Arial, sans-serif" font-size="8.4" fill="#1a1a1a" stroke="#1a1a1a" stroke-width="0.32" text-anchor="middle">Oct</text><line x1="897.5" y1="638" x2="897.5" y2="641.5" stroke="#222" stroke-width="1"/><text x="897.5" y="651.3" font-family="'Liberation Sans', Arial, sans-serif" font-size="8.4" fill="#1a1a1a" stroke="#1a1a1a" stroke-width="0.32" text-anchor="middle">Apr</text><line x1="956.75" y1="638" x2="956.75" y2="641.5" stroke="#222" stroke-width="1"/><text x="956.75" y="651.3" font-family="'Liberation Sans', Arial, sans-serif" font-size="8.4" fill="#1a1a1a" stroke="#1a1a1a" stroke-width="0.32" text-anchor="middle">Jul</text><line x1="1016.3" y1="638" x2="1016.3" y2="641.5" stroke="#222" stroke-width="1"/><text x="1016.3" y="651.3" font-family="'Liberation Sans', Arial, sans-serif" font-size="8.4" fill="#1a1a1a" stroke="#1a1a1a" stroke-width="0.32" text-anchor="middle">Oct</text><line x1="1134.5" y1="638" x2="1134.5" y2="641.5" stroke="#222" stroke-width="1"/><text x="1134.5" y="651.3" font-family="'Liberation Sans', Arial, sans-serif" font-size="8.4" fill="#1a1a1a" stroke="#1a1a1a" stroke-width="0.32" text-anchor="middle">Apr</text><line x1="121.75" y1="638" x2="121.75" y2="641.5" stroke="#222" stroke-width="1"/><line x1="121.75" y1="644.5" x2="121.75" y2="652" stroke="#3a3630" stroke-width="1" stroke-dasharray="1 2"/><text x="121.75" y="662.3" font-family="'Liberation Sans', Arial, sans-serif" font-size="8.4" fill="#1a1a1a" stroke="#1a1a1a" stroke-width="0.32" text-anchor="middle">2022</text><line x1="359.5" y1="638" x2="359.5" y2="641.5" stroke="#222" stroke-width="1"/><line x1="359.5" y1="644.5" x2="359.5" y2="652" stroke="#3a3630" stroke-width="1" stroke-dasharray="1 2"/><text x="359.5" y="662.3" font-family="'Liberation Sans', Arial, sans-serif" font-size="8.4" fill="#1a1a1a" stroke="#1a1a1a" stroke-width="0.32" text-anchor="middle">2023</text><line x1="601.25" y1="638" x2="601.25" y2="641.5" stroke="#222" stroke-width="1"/><line x1="601.25" y1="644.5" x2="601.25" y2="652" stroke="#3a3630" stroke-width="1" stroke-dasharray="1 2"/><text x="601.25" y="662.3" font-family="'Liberation Sans', Arial, sans-serif" font-size="8.4" fill="#1a1a1a" stroke="#1a1a1a" stroke-width="0.32" text-anchor="middle">2024</text><line x1="838.25" y1="638" x2="838.25" y2="641.5" stroke="#222" stroke-width="1"/><line x1="838.25" y1="644.5" x2="838.25" y2="652" stroke="#3a3630" stroke-width="1" stroke-dasharray="1 2"/><text x="838.25" y="662.3" font-family="'Liberation Sans', Arial, sans-serif" font-size="8.4" fill="#1a1a1a" stroke="#1a1a1a" stroke-width="0.32" text-anchor="middle">2025</text><line x1="1075" y1="638" x2="1075" y2="641.5" stroke="#222" stroke-width="1"/><line x1="1075" y1="644.5" x2="1075" y2="652" stroke="#3a3630" stroke-width="1" stroke-dasharray="1 2"/><text x="1075" y="662.3" font-family="'Liberation Sans', Arial, sans-serif" font-size="8.4" fill="#1a1a1a" stroke="#1a1a1a" stroke-width="0.32" text-anchor="middle">2026</text></svg>
</body></html>
